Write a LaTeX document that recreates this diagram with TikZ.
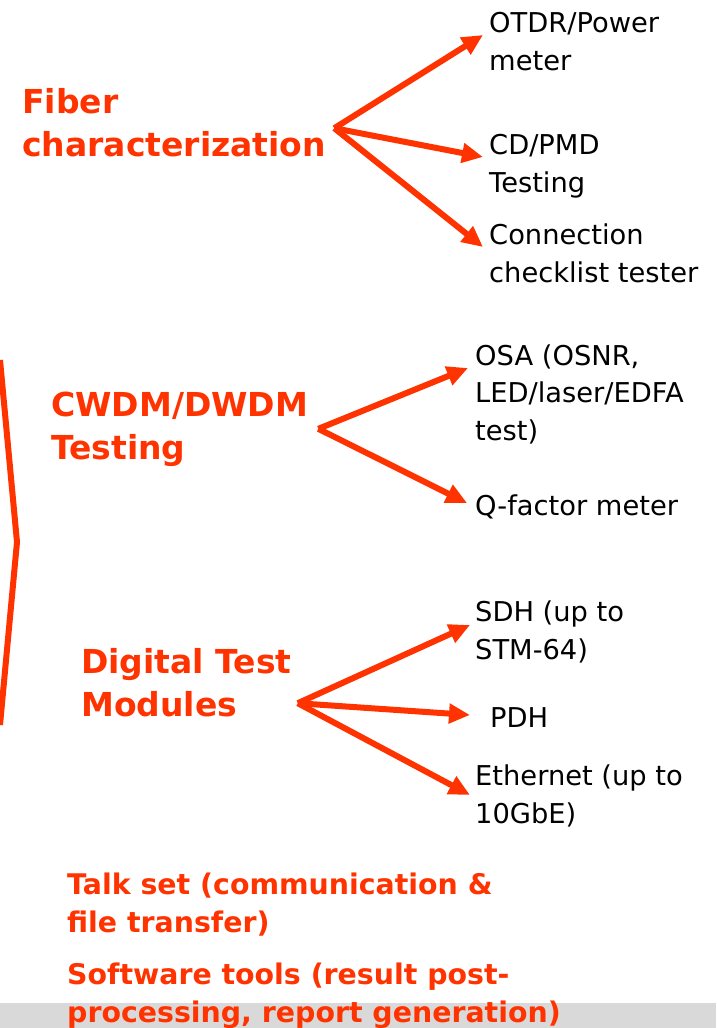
\documentclass[tikz,border=0pt]{standalone}
\usepackage{fontspec}
\setmainfont{DejaVu Sans}
\usetikzlibrary{arrows.meta}
\definecolor{vivid}{HTML}{FF3300}
\definecolor{band}{HTML}{D9D9D9}

\begin{document}
\begin{tikzpicture}[
  x=1pt,y=-1pt,
  item/.style={anchor=base west,inner sep=0pt,align=left,font=\fontsize{27.3}{37.5}\selectfont},
  head/.style={anchor=base west,inner sep=0pt,align=left,text=vivid,font=\bfseries\fontsize{33}{43}\selectfont},
  extra/.style={anchor=base west,inner sep=0pt,align=left,text=vivid,font=\bfseries\fontsize{28.4}{37.5}\selectfont},
  arr/.style={-{Triangle[length=21pt,width=19pt]},line width=6pt,vivid},
]
\useasboundingbox (0,0) rectangle (716,1028);
\fill[band] (0,1003) rectangle (716,1028);
% left bracket
\draw[vivid,line width=6pt] (0,360) -- (17,542) -- (0,725);
% fiber
\node[head] (fib) at (22,156) {Fiber\\characterization};
\node[item] (otdr) at (489,70) {OTDR/Power\\meter};
\node[item] (cdpmd) at (489,192) {CD/PMD\\Testing};
\node[item] (conn) at (489,282) {Connection\\checklist tester};
\draw[arr] ([shift={(8,6)}]fib.east) -- ([shift={(-6,-35)}]otdr.base west);
\draw[arr] ([shift={(8,6)}]fib.east) -- ([shift={(-6,-35)}]cdpmd.base west);
\draw[arr] ([shift={(8,6)}]fib.east) -- ([shift={(-6,-35)}]conn.base west);
% wdm
\node[head] (wdm) at (51,459) {CWDM/DWDM\\Testing};
\node[item] (osa) at (475,440) {OSA (OSNR,\\LED/laser/EDFA\\test)};
\node[item] (qfac) at (475,515) {Q-factor meter};
\draw[arr] ([shift={(10,0)}]wdm.east) -- ([shift={(-7,-72)}]osa.base west);
\draw[arr] ([shift={(10,0)}]wdm.east) -- ([shift={(-8,-12)}]qfac.base west);
% digital
\node[head] (dig) at (81,716) {Digital Test\\Modules};
\node[item] (sdh) at (475,659) {SDH (up to\\STM-64)};
\node[item] (pdh) at (490,727) {PDH};
\node[item] (eth) at (475,823) {Ethernet (up to\\10GbE)};
\draw[arr] ([shift={(6,21)}]dig.east) -- ([shift={(-5,-34)}]sdh.base west);
\draw[arr] ([shift={(6,21)}]dig.east) -- ([shift={(-20,-12)}]pdh.base west);
\draw[arr] ([shift={(6,21)}]dig.east) -- ([shift={(-5,-28)}]eth.base west);
% others
\node[extra] (talk) at (67,932) {Talk set (communication \&\\file transfer)};
\node[extra] (soft) at (67,1022) {Software tools (result post-\\processing, report generation)};
\end{tikzpicture}
\end{document}
